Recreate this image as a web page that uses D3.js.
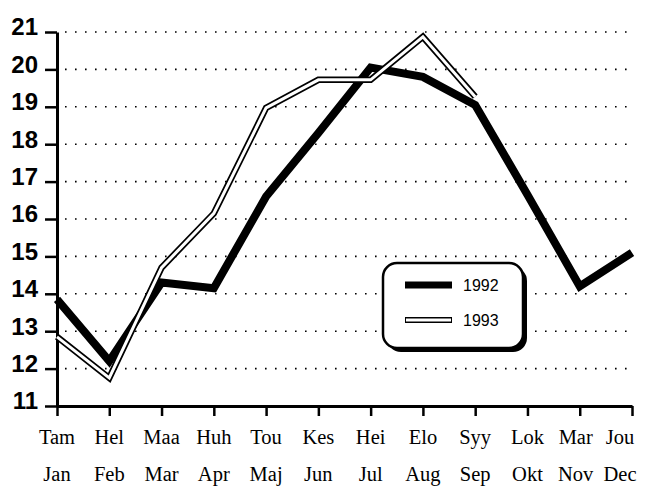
<!DOCTYPE html>
<html>
<head>
<meta charset="utf-8">
<script src="https://cdn.jsdelivr.net/npm/d3@7"></script>
<style>
    body { margin: 0; background: #fff; }
    svg { display: block; }
</style>
</head>
<body>
<svg></svg>
<script>
const monthsFi = ['Tam', 'Hel', 'Maa', 'Huh', 'Tou', 'Kes', 'Hei', 'Elo', 'Syy', 'Lok', 'Mar', 'Jou'];
const monthsSv = ['Jan', 'Feb', 'Mar', 'Apr', 'Maj', 'Jun', 'Jul', 'Aug', 'Sep', 'Okt', 'Nov', 'Dec'];
const values1992 = [13.85, 12.2, 14.3, 14.15, 16.6, 18.3, 20.05, 19.8, 19.05, 16.65, 14.2, 15.1];
const values1993 = [12.85, 11.75, 14.7, 16.15, 18.97, 19.72, 19.72, 20.87, 19.27];
const yTicks = [11, 12, 13, 14, 15, 16, 17, 18, 19, 20, 21];

const width = 668, height = 493;
const svg = d3.select('svg')
    .attr('width', width)
    .attr('height', height);

const x = d3.scalePoint()
    .domain(d3.range(12))
    .range([57, 632]);

const y = d3.scaleLinear()
    .domain([11, 21])
    .range([406, 32]);

// dotted grid
svg.append('g')
    .attr('class', 'grid')
    .selectAll('line')
    .data(yTicks.slice(1))
    .enter()
    .append('line')
    .attr('x1', 65)
    .attr('x2', 630)
    .attr('y1', d => y(d))
    .attr('y2', d => y(d))
    .attr('stroke', '#000')
    .attr('stroke-width', 1.6)
    .attr('stroke-dasharray', '1.6,8.4');

// y axis
const yAxis = svg.append('g')
    .attr('transform', 'translate(57,0)')
    .call(d3.axisLeft(y).tickValues(yTicks).tickSize(12).tickSizeOuter(0).tickPadding(7));
yAxis.select('.domain').attr('stroke-width', 3);
yAxis.selectAll('.tick line').attr('stroke-width', 2.5);
yAxis.selectAll('.tick text')
    .attr('font-family', 'Liberation Sans, Arial, sans-serif')
    .attr('font-weight', 'bold')
    .attr('font-size', '24px')
    .attr('fill', '#000')
    .attr('dy', '0.12em');

// x axis
const xAxis = svg.append('g')
    .attr('transform', 'translate(0,406)')
    .call(d3.axisBottom(x).tickSize(10).tickSizeOuter(0).tickFormat(''));
xAxis.select('.domain').attr('stroke-width', 3);
xAxis.selectAll('.tick line').attr('stroke-width', 2.5);

const labelRows = [{ names: monthsFi, y: 444 }, { names: monthsSv, y: 481 }];
labelRows.forEach(row => {
    svg.append('g')
        .selectAll('text')
        .data(row.names)
        .enter()
        .append('text')
        .text(d => d)
        .attr('x', (d, i) => x(i) - (i === 11 ? 12 : i === 10 ? 4 : 0))
        .attr('y', row.y)
        .attr('text-anchor', 'middle')
        .attr('font-family', 'Liberation Serif, Times New Roman, serif')
        .attr('font-size', '20.5px')
        .attr('fill', '#000');
});

const line = d3.line()
    .x((d, i) => x(i))
    .y(d => y(d));

svg.append('path')
    .datum(values1992)
    .attr('d', line)
    .attr('fill', 'none')
    .attr('stroke', '#000')
    .attr('stroke-width', 8);

svg.append('path')
    .datum(values1993)
    .attr('d', line)
    .attr('fill', 'none')
    .attr('stroke', '#000')
    .attr('stroke-width', 6.5);
svg.append('path')
    .datum(values1993)
    .attr('d', line)
    .attr('fill', 'none')
    .attr('stroke', '#fff')
    .attr('stroke-width', 3);

// legend
const legend = svg.append('g').attr('transform', 'translate(383,263)');
legend.append('rect')
    .attr('x', 4).attr('y', 4)
    .attr('width', 140).attr('height', 85)
    .attr('rx', 14)
    .attr('fill', '#000');
legend.append('rect')
    .attr('width', 140).attr('height', 85)
    .attr('rx', 14)
    .attr('fill', '#fff')
    .attr('stroke', '#000')
    .attr('stroke-width', 2.5);
legend.append('line')
    .attr('x1', 22).attr('x2', 69).attr('y1', 22).attr('y2', 22)
    .attr('stroke', '#000').attr('stroke-width', 7);
legend.append('line')
    .attr('x1', 22).attr('x2', 69).attr('y1', 57).attr('y2', 57)
    .attr('stroke', '#000').attr('stroke-width', 6);
legend.append('line')
    .attr('x1', 23).attr('x2', 68).attr('y1', 57).attr('y2', 57)
    .attr('stroke', '#fff').attr('stroke-width', 3);
legend.selectAll('text')
    .data(['1992', '1993'])
    .enter()
    .append('text')
    .text(d => d)
    .attr('x', 80)
    .attr('y', (d, i) => i === 0 ? 28 : 63)
    .attr('font-family', 'Liberation Sans, Arial, sans-serif')
    .attr('font-size', '16px')
    .attr('fill', '#000');
</script>
</body>
</html>
